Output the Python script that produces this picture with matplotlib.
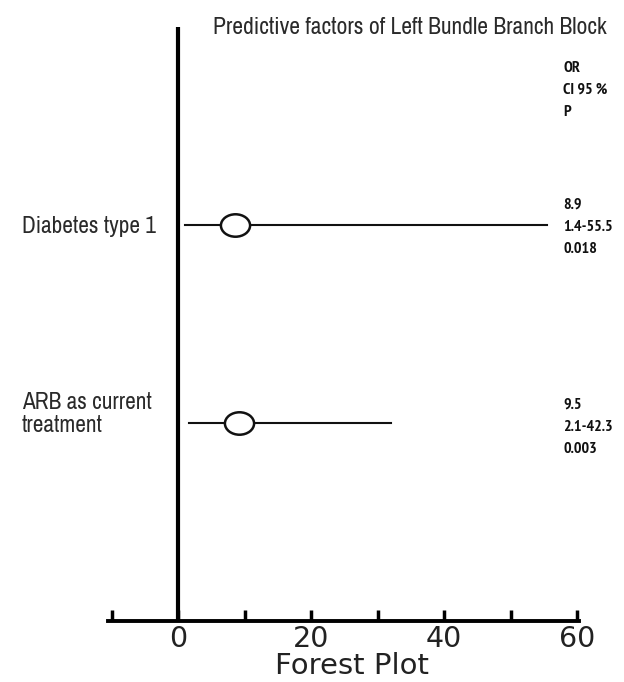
import matplotlib
matplotlib.use("Agg")
import matplotlib.pyplot as plt
from matplotlib import font_manager
from matplotlib.path import Path
import numpy as np

# ---- data ----
factors = ["Diabetes type 1", "ARB as current\ntreatment"]
odds_ratio = [8.6, 9.2]          # marker positions as drawn
ci_low = [1.05, 1.65]            # line starts as drawn
ci_high = [55.5, 32.0]           # line ends as drawn
or_labels = ["8.9", "9.5"]
ci_labels = ["1.4-55.5", "2.1-42.3"]
p_labels = ["0.018", "0.003"]
header_labels = ["OR", "CI 95 %", "P"]
xticks_major = [-10, 0, 10, 20, 30, 40, 50, 60]
xtick_labels = ["", "0", "", "20", "", "40", "", "60"]
title = "Predictive factors of Left Bundle Branch Block"
xlabel = "Forest Plot"

fl = font_manager.fontManager.ttflist
names = {f.name for f in fl}
bold_names = {f.name for f in fl if (f.weight if isinstance(f.weight, int) else 400) >= 700
              or str(f.weight) == "bold"}

cands = ["Arial Narrow", "Liberation Sans Narrow", "Archivo Narrow", "PT Sans Narrow",
         "Roboto Condensed", "Fira Sans Condensed", "Encode Sans Condensed",
         "IBM Plex Sans Condensed", "Asap Condensed", "Pragati Narrow",
         "Open Sans Condensed"]

def pick(cs, default, need_bold=False):
    for c in cs:
        if c in names and (not need_bold or c in bold_names):
            return c
    return default

narrow = pick(cands, "Liberation Sans")
narrow_bold = pick(cands, "Liberation Sans", need_bold=True)
wide = pick(["Verdana", "DejaVu Sans"], "DejaVu Sans")

W, H = 624, 682
fig = plt.figure(figsize=(W / 100, H / 100), dpi=100)

px_per_unit = (577 - 178) / 60.0
xmin, xmax = -10.5, 60.3
left_px = 178 + xmin * px_per_unit
width_px = (xmax - xmin) * px_per_unit
ax = fig.add_axes([left_px / W, (H - 621) / H, width_px / W, (621 - 27) / H])
ax.set_xlim(xmin, xmax)
ax.set_ylim(0, 3)

for s in ["top", "right", "left"]:
    ax.spines[s].set_visible(False)
ax.spines["bottom"].set_linewidth(2.8)
ax.set_yticks([])
ax.set_xticks(xticks_major)
ax.set_xticklabels(xtick_labels, fontsize=20.5, family=wide, color="#222222")
ax.tick_params(axis="x", direction="in", length=8, width=2.5, pad=3)
ax.set_xlabel(xlabel, fontsize=21, family=wide, color="#222222")
ax.xaxis.label.set_va("center")
ax.xaxis.set_label_coords(352 / W, 1 - 666 / H, transform=fig.transFigure)

ax.axvline(0, color="black", lw=3, ymin=0, ymax=1)

# ellipse marker
circ = Path.unit_circle()
ell = Path(circ.vertices * np.array([1.3, 1.0]), circ.codes)

ypos = [2, 1]
for i in range(len(factors)):
    y = ypos[i]
    ax.plot([ci_low[i], ci_high[i]], [y, y], color="#111111", lw=1.5, zorder=2)
    ax.plot([odds_ratio[i]], [y], marker=ell, markersize=21, markerfacecolor="white",
            markeredgecolor="#111111", markeredgewidth=1.8, zorder=3)

# left labels
label_y = [227, 414]
for i, f in enumerate(factors):
    fig.text(22 / W, 1 - label_y[i] / H, f, family=narrow, fontsize=16.8,
             color="#2a2a2a", ha="left", va="center", linespacing=1.15)

# right column
def rtext(ypix, s):
    fig.text(563 / W, 1 - ypix / H, s, family=narrow_bold, fontsize=11.5,
             fontweight="bold", color="#111111", ha="left", va="center")

for k, s in enumerate(header_labels):
    rtext(68 + 22 * k, s)
rows_y = [205, 405]
for i in range(len(factors)):
    rtext(rows_y[i], or_labels[i])
    rtext(rows_y[i] + 22, ci_labels[i])
    rtext(rows_y[i] + 44, p_labels[i])

fig.text(213 / W, 1 - 27 / H, title, family=narrow, fontsize=17,
         color="#2a2a2a", ha="left", va="center")

fig.savefig("out.png", dpi=100, facecolor="white")
